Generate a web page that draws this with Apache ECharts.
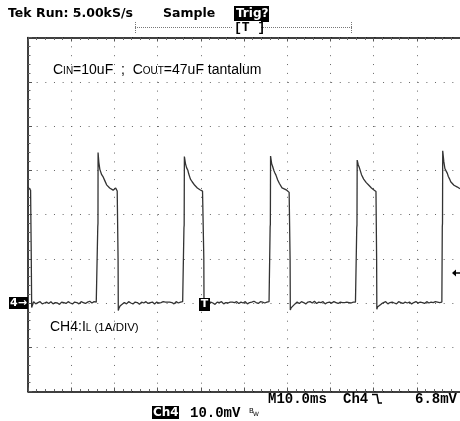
<!DOCTYPE html>
<html>
<head>
<meta charset="utf-8">
<script src="https://cdn.jsdelivr.net/npm/echarts@6/dist/echarts.min.js"></script>
<style>
  html, body { margin: 0; padding: 0; background: #fff; }
  #chart { width: 460px; height: 421px; }
</style>
</head>
<body>
<div id="chart"></div>
<script>
// time in ms, inductor current in A (1 A/div), 10 ms/div
const SAMPLE_STEP = 0.5;
const baselineStarts = [1.3, 21.3, 41.3, 61.3, 81.3];
const baseline1 = [0.03,-0.02,0.01,0.03,-0.02,0.0,0.02,-0.01,0.03,-0.02,0.01,0.0,-0.03,0.02,0.01,-0.01,0.03,0.0,-0.02,0.02,0.01,-0.02,0.03,0.01,-0.01,0.02,0.04,0.0,0.03,0.02];
const baseline2 = [-0.07,-0.03,0.01,-0.02,0.03,0.0,-0.02,0.02,0.01,-0.03,0.02,0.0,0.03,-0.01,0.01,0.02,-0.02,0.02,0.0,0.01,0.03,0.02,0.02,0.02,0.01,-0.02,0.03,0.0,0.02,0.03];
const baseline3 = [-0.08,-0.02,0.02,0.0,-0.03,0.02,0.01,0.03,-0.02,0.01,0.0,0.02,0.02,0.01,0.03,-0.01,0.02,0.0,0.03,-0.02,0.01,0.02,0.04,0.01,-0.01,0.03,0.02,0.0,0.02,0.03];
const baseline4 = [-0.07,-0.02,0.02,-0.01,0.03,0.01,-0.02,0.02,0.03,0.0,0.04,-0.01,0.02,0.01,0.03,-0.02,0.01,0.02,0.0,0.03,0.01,-0.01,0.02,0.01,0.01,0.02,0.01,0.0,0.02,0.02];
const baseline5 = [-0.06,-0.02,0.01,0.03,-0.02,0.01,0.02,0.0,-0.02,0.03,0.01,-0.01,0.02,0.0,0.02,-0.02,0.01,0.03,0.0,0.02,0.01,-0.01,0.03,0.0,0.02,0.01,0.03,0.02,0.01,0.02];

const pulse0 = [[0,2.62],[0.3,2.58],[0.6,2.55],[0.75,1.1],[0.85,-0.1],[1.05,-0.06]];
const pulse1 = [[16.1,0.02],[16.15,1.72],[16.2,1.8],[16.22,3.40],[16.4,3.18],[16.63,3.02],[16.85,2.98],[17.05,2.9],[17.2,2.93],[17.4,2.85],[17.6,2.81],[17.8,2.76],[18.0,2.72],[18.2,2.67],[18.4,2.68],[18.6,2.63],[18.9,2.6],[19.1,2.62],[19.3,2.57],[19.7,2.55],[19.9,2.58],[20.1,2.54],[20.3,2.6],[20.5,2.57],[20.65,2.53],[20.8,2.52],[20.85,1.0],[20.9,-0.17],[21.05,-0.12]];
const pulse2 = [[36.05,0.01],[36.1,1.7],[36.15,1.76],[36.2,3.31],[36.45,3.15],[36.7,3.06],[37.0,3.0],[37.2,2.92],[37.4,2.88],[37.6,2.8],[37.8,2.78],[38.0,2.74],[38.3,2.7],[38.6,2.66],[38.9,2.63],[39.2,2.6],[39.5,2.61],[39.8,2.56],[40.1,2.55],[40.4,2.53],[40.65,2.52],[40.7,1.0],[40.75,-0.16],[40.9,-0.1]];
const pulse3 = [[56.0,0.02],[56.05,1.72],[56.1,1.78],[56.15,3.32],[56.4,3.15],[56.65,3.08],[56.9,3.0],[57.1,2.95],[57.4,2.89],[57.6,2.86],[57.8,2.78],[58.0,2.74],[58.2,2.7],[58.5,2.66],[58.8,2.6],[59.0,2.61],[59.3,2.58],[59.6,2.57],[59.9,2.55],[60.2,2.56],[60.45,2.5],[60.62,2.48],[60.67,1.0],[60.72,-0.16],[60.9,-0.11]];
const pulse4 = [[76.05,0.02],[76.1,1.7],[76.15,1.76],[76.2,3.23],[76.45,3.12],[76.7,3.06],[76.95,2.98],[77.2,2.9],[77.4,2.86],[77.7,2.8],[78.0,2.77],[78.3,2.72],[78.6,2.7],[78.9,2.66],[79.2,2.62],[79.5,2.6],[79.75,2.59],[80.0,2.56],[80.3,2.54],[80.55,2.52],[80.65,2.51],[80.7,1.0],[80.75,-0.14],[80.9,-0.09]];
const pulse5 = [[95.85,0.02],[95.9,1.72],[95.95,1.8],[96.0,3.44],[96.25,3.2],[96.5,3.04],[96.8,2.98],[97.07,2.93],[97.3,2.86],[97.6,2.8],[97.85,2.74],[98.2,2.7],[98.6,2.66],[99.0,2.63],[99.4,2.62],[99.8,2.59],[100,2.58]];

const baselines = [baseline1, baseline2, baseline3, baseline4, baseline5];
const pulses = [pulse1, pulse2, pulse3, pulse4, pulse5];

function buildTrace() {
    let pts = pulse0.slice();
    baselines.forEach((vals, k) => {
        vals.forEach((v, i) => pts.push([+(baselineStarts[k] + i * SAMPLE_STEP).toFixed(2), v]));
        pts = pts.concat(pulses[k]);
    });
    return pts;
}

const MONO = "'Liberation Mono', monospace";
const SANS = "'DejaVu Sans', sans-serif";
const ARIAL = "'Liberation Sans', Arial, sans-serif";

const chart = echarts.init(document.getElementById('chart'), null, {renderer: 'canvas'});

const axisCommon = {
    type: 'value',
    axisLine: {show: true, onZero: false, lineStyle: {color: '#000', width: 1.5}},
    axisTick: {show: true, inside: true, length: 4, lineStyle: {color: '#555'}},
    minorTick: {show: true, splitNumber: 5, length: 2.5, lineStyle: {color: '#666'}},
    axisLabel: {show: false},
};

chart.setOption({
    animation: false,
    backgroundColor: '#fff',
    grid: {left: 28, top: 37.5, width: 433, height: 354},
    xAxis: [
        Object.assign({}, axisCommon, {
            position: 'bottom', min: 0, max: 100, interval: 10,
            splitLine: {show: true, lineStyle: {color: '#666', width: 1, type: [1, 7.85]}},
        }),
        Object.assign({}, axisCommon, {
            position: 'top', min: 0, max: 100, interval: 10,
            splitLine: {show: false},
        }),
    ],
    yAxis: Object.assign({}, axisCommon, {
        position: 'left', min: -2, max: 6, interval: 1,
        splitLine: {show: true, lineStyle: {color: '#666', width: 1, type: [1, 7.66]}},
    }),
    series: [{
        type: 'line',
        data: buildTrace(),
        showSymbol: false,
        lineStyle: {color: '#333', width: 1.3},
        z: 5,
    }],
    graphic: [
        // header
        {type: 'text', x: 8, y: 14, style: {text: 'Tek Run: 5.00kS/s', font: 'bold 12.5px ' + SANS, fill: '#000', verticalAlign: 'middle'}},
        {type: 'text', x: 163, y: 14, style: {text: 'Sample', font: 'bold 12.5px ' + SANS, fill: '#000', verticalAlign: 'middle'}},
        {type: 'rect', shape: {x: 234, y: 6, width: 35, height: 16}, style: {fill: '#000'}},
        {type: 'text', x: 236, y: 14, style: {text: 'Trig?', font: 'bold 12px ' + SANS, fill: '#fff', verticalAlign: 'middle'}},
        // trigger position bracket
        {type: 'line', shape: {x1: 135, y1: 27.5, x2: 352, y2: 27.5}, style: {stroke: '#777', lineWidth: 1, lineDash: [1, 1]}},
        {type: 'line', shape: {x1: 135.5, y1: 22, x2: 135.5, y2: 33}, style: {stroke: '#777', lineWidth: 1, lineDash: [1, 1]}},
        {type: 'line', shape: {x1: 351.5, y1: 22, x2: 351.5, y2: 33}, style: {stroke: '#777', lineWidth: 1, lineDash: [1, 1]}},
        {type: 'rect', shape: {x: 233, y: 21, width: 28, height: 13}, style: {fill: '#fff'}},
        {type: 'text', x: 234, y: 27.5, style: {text: '[T ]', font: 'bold 13px ' + MONO, fill: '#000', verticalAlign: 'middle'}},
        // annotations in the graticule
        {type: 'text', x: 53, y: 70, z: 10, style: {
            text: '{a|C}{s|IN}{a|=10uF  ;  C}{s|OUT}{a|=47uF tantalum}',
            verticalAlign: 'middle',
            rich: {a: {font: '14px ' + ARIAL, fill: '#000'}, s: {font: '10px ' + ARIAL, fill: '#000', padding: [2, 0, 0, 0]}},
        }},
        {type: 'text', x: 50, y: 327, z: 10, style: {
            text: '{a|CH4:I}{s|L}{b| (1A/DIV)}',
            verticalAlign: 'middle',
            rich: {a: {font: '14px ' + ARIAL, fill: '#000'}, s: {font: '10px ' + ARIAL, fill: '#000', padding: [2, 0, 0, 0]}, b: {font: '11.5px ' + ARIAL, fill: '#000', padding: [1, 0, 0, 0]}},
        }},
        // ground marker
        {type: 'rect', shape: {x: 9, y: 297, width: 19, height: 12}, style: {fill: '#000'}},
        {type: 'text', x: 10, y: 303, style: {text: '4→', font: 'bold 11px ' + SANS, fill: '#fff', verticalAlign: 'middle'}},
        // trigger point marker
        {type: 'rect', shape: {x: 199, y: 298, width: 11, height: 13}, z: 10, style: {fill: '#000'}},
        {type: 'text', x: 204.5, y: 304.5, z: 11, style: {text: 'T', font: 'bold 11px ' + SANS, fill: '#fff', align: 'center', verticalAlign: 'middle'}},
        // trigger level arrow
        {type: 'polygon', shape: {points: [[452, 273], [456, 269.5], [456, 276.5]]}, style: {fill: '#000'}},
        {type: 'line', shape: {x1: 455, y1: 273, x2: 460, y2: 273}, style: {stroke: '#000', lineWidth: 1.5}},
        // footer
        {type: 'text', x: 268, y: 399, style: {text: 'M10.0ms', font: 'bold 14px ' + MONO, fill: '#000', verticalAlign: 'middle'}},
        {type: 'text', x: 343, y: 399, style: {text: 'Ch4', font: 'bold 14px ' + MONO, fill: '#000', verticalAlign: 'middle'}},
        {type: 'polyline', shape: {points: [[372, 394.5], [377, 394.5], [378.5, 403], [382, 403]]}, style: {stroke: '#000', lineWidth: 1.5, fill: null}},
        {type: 'text', x: 415, y: 399, style: {text: '6.8mV', font: 'bold 14px ' + MONO, fill: '#000', verticalAlign: 'middle'}},
        {type: 'rect', shape: {x: 152, y: 406, width: 27, height: 13}, style: {fill: '#000'}},
        {type: 'text', x: 153, y: 412.5, style: {text: 'Ch4', font: 'bold 12px ' + SANS, fill: '#fff', verticalAlign: 'middle'}},
        {type: 'text', x: 190, y: 413, style: {text: '10.0mV', font: 'bold 14px ' + MONO, fill: '#000', verticalAlign: 'middle'}},
        {type: 'text', x: 249, y: 411, style: {text: 'B', font: '7px ' + SANS, fill: '#000', verticalAlign: 'middle'}},
        {type: 'text', x: 253, y: 414, style: {text: 'W', font: '6px ' + SANS, fill: '#000', verticalAlign: 'middle'}},
    ],
});
</script>
</body>
</html>
